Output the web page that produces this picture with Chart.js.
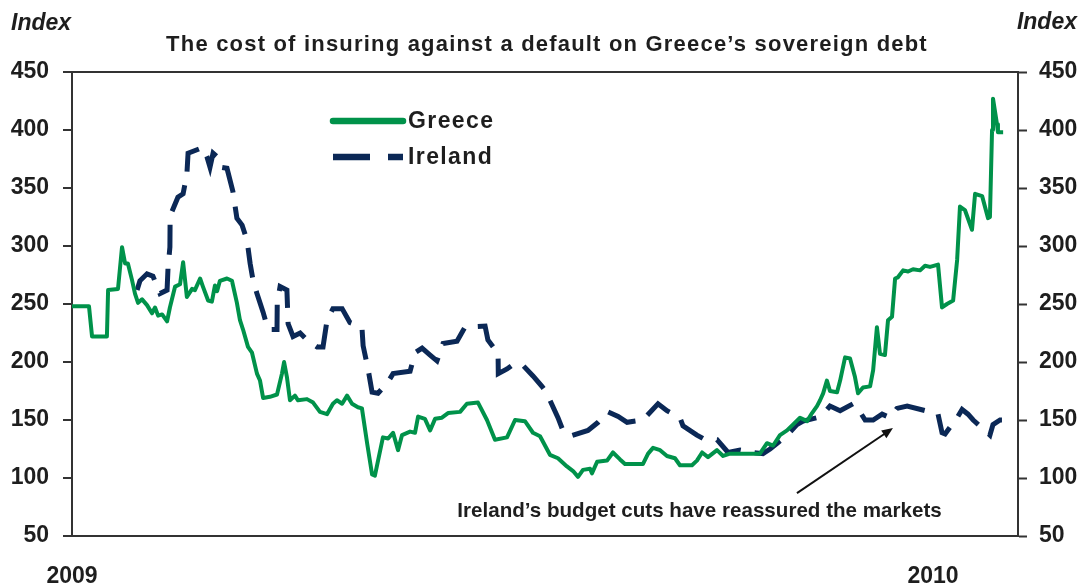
<!DOCTYPE html>
<html>
<head>
<meta charset="utf-8">
<title>Sovereign CDS: Greece vs Ireland</title>
<script src="https://cdn.jsdelivr.net/npm/chart.js@4.4.1/dist/chart.umd.min.js"></script>
<style>
  body { margin: 0; background: #fff; }
  #wrap { width: 1080px; height: 584px; }
</style>
</head>
<body>
<div id="wrap"><canvas id="cds" width="1080" height="584"></canvas></div>
<script>
// x values are days counted from 1 Jan 2009
const greeceDays = [0,7.2,8.5,14.8,15.3,19.5,21.2,22.5,23.7,25.4,
  26.7,28,29.7,31.8,33.9,35.2,36.5,38.2,40.3,41.5,
  43.7,45.8,47.1,48.7,50.9,52.1,54.3,55.5,57.7,59.3,
  60.6,61.5,62.7,65.7,67.8,69.9,71.2,72.5,74.6,76.3,
  78.4,79.7,81,83.9,86.9,89,89.9,91.1,92.4,94.5,
  95.8,99.6,102.2,105.1,108.1,110.6,112.3,114.5,116.6,118.7,
  121.2,122.9,125.1,127.2,128.4,131.8,134,136.1,138.2,139.9,
  143.3,145.4,146.7,149.6,151.8,153.9,156.8,159.4,164.5,167.4,
  172.1,175.9,179.3,184.4,187.8,192,195.4,198.4,202.6,206,
  209.8,212.4,214.5,216.6,219.6,220.4,222.6,226.8,229.3,232.3,
  234.4,242,244.2,246.3,249.3,252.2,255.6,257.7,262.8,264.9,
  267.1,269.6,273.4,276,278.9,291.6,294.6,297.2,300.1,303.1,
  305.6,308.6,311.6,313.7,315.8,317.1,318.4,320,321.3,324.3,
  325.6,327.7,329.8,331.9,333.2,335.3,338.3,339.6,341.2,342.5,
  344.6,345.9,347.6,348.9,350.1,352.3,354.4,356.5,359.5,361.6,
  363.7,367.1,368.8,370.9,373.5,375.2,376.4,378.5,381.5,382.8,
  385.8,388.3,389.1,390,390.4,392.1,392.5,394.7];
const greeceIndex = [248,248,222,222,262,263,299,285,285,271,
  259,251,254,249,242,247,240,241,235,247,
  265,267,286,256,263,262,272,265,253,252,
  266,261,270,272,270,251,236,228,213,208,
  190,184,169,170,172,190,200,187,167,171,
  167,168,165,157,155,164,167,164,171,164,
  161,160,130,103,102,135,134,139,124,137,
  140,139,153,151,141,151,152,156,157,164,
  165,150,133,135,150,149,139,136,120,117,
  110,106,101,107,108,104,114,115,122,116,
  112,112,121,126,124,119,117,111,111,115,
  122,118,124,119,121,121,130,128,137,141,
  146,152,149,156,162,167,173,184,175,174,
  184,204,203,187,173,178,179,193,230,207,
  206,236,239,272,273,279,278,280,279,283,
  282,284,247,250,253,288,334,331,314,345,
  343,324,325,400,427,405,398,398];

const irelandDays = [27.6,28.8,31.8,34.3,37.3,40.3,40.7,41.5,41.6,44.9,
  47.1,48.7,49.2,53,55.5,57.2,58.5,59.8,61.5,62.7,
  65.7,68.2,69.9,72.1,74.2,75.5,76.7,78.4,81,83.1,
  86.9,87,88.2,91.1,91.6,93.7,96.7,99.6,103.9,106.4,
  108.1,110.6,114.5,117.8,122.9,123.4,125.5,127.2,129.7,134,
  136.1,143.3,145.4,148.4,151.8,154.7,157.3,163.2,165.7,166.6,
  175.1,176.3,178.5,180.6,180.7,184.4,187.8,191.2,195.4,199.2,
  201.4,202.6,206,208.1,211.1,218.7,223,227.2,231.5,235.3,
  242,248.4,252.2,257.7,259,264.9,267.5,273.4,278.1,283.2,
  288.7,292.9,295.9,298.9,303.1,307.3,309.9,315.8,318.4,321.3,
  325.6,331.1,334,336.2,339.6,343.4,346.8,349.7,354,363.7,
  367.1,368.8,370.1,375.2,377.3,379.8,382,387,389.1,390.4,
  393.4,394.2];
const irelandIndex = [262,270,276,274,259,262,281,299,326,342,
  345,362,380,383,385,377,368,380,377,368,
  367,347,324,318,305,285,271,259,243,228,
  228,251,265,262,233,222,225,219,213,213,
  236,246,246,234,230,214,194,174,173,183,
  190,192,208,212,206,201,216,218,227,230,
  231,219,213,209,190,194,199,197,188,179,
  173,167,152,141,136,141,148,157,153,148,
  150,164,158,152,145,137,134,133,122,124,
  122,121,125,130,137,146,149,152,155,162,
  158,164,157,150,150,155,152,160,162,157,
  155,139,138,152,159,155,150,141,137,146,
  150,150];

const yearTicks = [0, 365];
const yearLabels = ['2009', '2010'];

const heading = 'The cost of insuring against a default on Greece\u2019s sovereign debt';
const note = 'Ireland\u2019s budget cuts have reassured the markets';
// note text anchor and arrow (tail -> head) in data units
const notePos = { x: 266, y: 71 };
const arrowFrom = { x: 307.3, y: 87 };
const arrowTo = { x: 348, y: 143 };

const GREEN = '#00924a';
const NAVY = '#0b2856';
const INK = '#1e1e1e';
const AXIS = '#333333';
const FONT = '"Liberation Sans", Arial, Helvetica, sans-serif';

function toPoints(xs, ys) {
  return xs.map((x, i) => ({ x: x, y: ys[i] }));
}

const decorations = {
  id: 'decorations',
  afterDraw(chart) {
    const ctx = chart.ctx;
    const xs = chart.scales.x;
    const ys = chart.scales.y;
    ctx.save();
    ctx.fillStyle = INK;

    // heading
    ctx.font = 'bold 22px ' + FONT;
    ctx.letterSpacing = '1.2px';
    ctx.textAlign = 'center';
    ctx.textBaseline = 'middle';
    ctx.fillText(heading, 547, 45);

    // unit labels over both axes
    ctx.letterSpacing = '0px';
    ctx.font = 'italic bold 23px ' + FONT;
    ctx.textAlign = 'left';
    ctx.fillText('Index', 11, 24);
    ctx.textAlign = 'right';
    ctx.fillText('Index', 1077, 23);

    // legend
    const sets = chart.data.datasets;
    const lx0 = 333, lx1 = 403;
    const rows = [121, 157];
    sets.forEach((ds, i) => {
      const y = rows[i];
      ctx.beginPath();
      ctx.strokeStyle = ds.borderColor;
      ctx.lineWidth = 6.5;
      ctx.lineCap = ds.borderDash ? 'butt' : 'round';
      ctx.setLineDash(ds.borderDash ? [37, 18] : []);
      ctx.moveTo(lx0, y);
      ctx.lineTo(lx1, y);
      ctx.stroke();
      ctx.setLineDash([]);
      ctx.font = 'bold 23px ' + FONT;
      ctx.letterSpacing = '1.4px';
      ctx.textAlign = 'left';
      ctx.fillStyle = INK;
      ctx.fillText(ds.label, lx1 + 5, y + 1);
    });

    // annotation
    ctx.letterSpacing = '0px';
    ctx.font = 'bold 20.6px ' + FONT;
    ctx.textAlign = 'center';
    ctx.fillText(note, xs.getPixelForValue(notePos.x), ys.getPixelForValue(notePos.y));

    const ax = xs.getPixelForValue(arrowFrom.x), ay = ys.getPixelForValue(arrowFrom.y);
    const bx = xs.getPixelForValue(arrowTo.x), by = ys.getPixelForValue(arrowTo.y);
    const ang = Math.atan2(by - ay, bx - ax);
    const head = 12;
    ctx.strokeStyle = '#111';
    ctx.lineWidth = 2;
    ctx.lineCap = 'butt';
    ctx.beginPath();
    ctx.moveTo(ax, ay);
    ctx.lineTo(bx - Math.cos(ang) * head * 0.8, by - Math.sin(ang) * head * 0.8);
    ctx.stroke();
    ctx.fillStyle = '#111';
    ctx.beginPath();
    ctx.moveTo(bx, by);
    ctx.lineTo(bx - head * Math.cos(ang - 0.4), by - head * Math.sin(ang - 0.4));
    ctx.lineTo(bx - head * Math.cos(ang + 0.4), by - head * Math.sin(ang + 0.4));
    ctx.closePath();
    ctx.fill();

    ctx.restore();
  }
};

const tickFont = { family: FONT, size: 23, weight: 'bold' };

new Chart(document.getElementById('cds'), {
  type: 'line',
  data: {
    datasets: [
      {
        label: 'Greece',
        data: toPoints(greeceDays, greeceIndex),
        borderColor: GREEN,
        borderWidth: 4,
        pointRadius: 0,
        tension: 0,
        borderJoinStyle: 'round'
      },
      {
        label: 'Ireland',
        data: toPoints(irelandDays, irelandIndex),
        borderColor: NAVY,
        borderWidth: 5,
        borderDash: [30, 14],
        pointRadius: 0,
        tension: 0
      }
    ]
  },
  options: {
    responsive: false,
    animation: false,
    devicePixelRatio: 1,
    layout: { padding: { top: 72, left: 0, right: 0, bottom: 0 } },
    plugins: {
      legend: { display: false },
      tooltip: { enabled: false }
    },
    scales: {
      x: {
        type: 'linear',
        min: 0,
        max: 401,
        afterBuildTicks: (s) => { s.ticks = yearTicks.map(v => ({ value: v })); },
        afterFit: (s) => { s.height = 48; },
        ticks: {
          autoSkip: false,
          maxRotation: 0,
          padding: 27,
          color: INK,
          font: tickFont,
          callback: (v) => yearLabels[yearTicks.indexOf(v)]
        },
        grid: { drawOnChartArea: false, drawTicks: false },
        border: { display: true, color: AXIS, width: 2 }
      },
      y: {
        position: 'left',
        min: 50,
        max: 450,
        afterFit: (s) => { s.width = 72; },
        ticks: { stepSize: 50, padding: 14, color: INK, font: tickFont },
        grid: {
          drawOnChartArea: true,
          color: (c) => (c.tick && c.tick.value === 450 ? AXIS : 'rgba(0,0,0,0)'),
          lineWidth: 2,
          tickColor: AXIS,
          tickWidth: 2,
          tickLength: 9
        },
        border: { display: true, color: AXIS, width: 2 }
      },
      y2: {
        position: 'right',
        min: 50,
        max: 450,
        afterFit: (s) => { s.width = 62; },
        ticks: { stepSize: 50, padding: 12, color: INK, font: tickFont },
        grid: { drawOnChartArea: false, tickColor: AXIS, tickWidth: 2, tickLength: 9 },
        border: { display: true, color: AXIS, width: 2 }
      }
    }
  },
  plugins: [decorations]
});
</script>
</body>
</html>
